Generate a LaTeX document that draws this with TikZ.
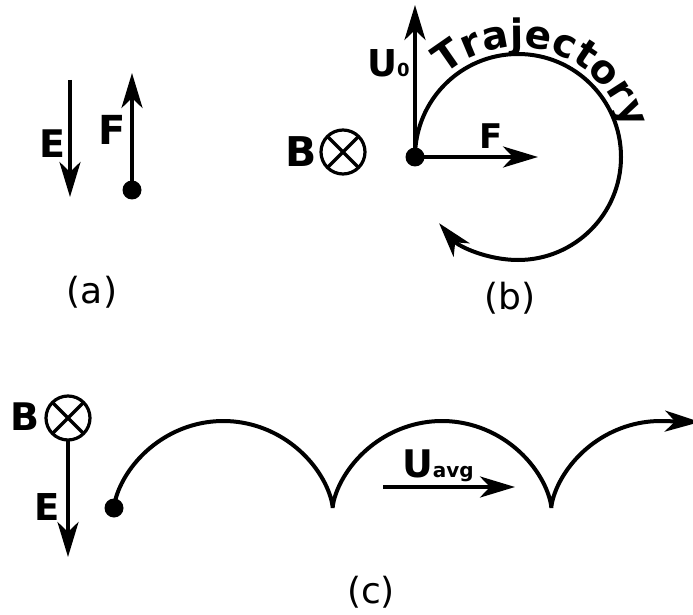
\documentclass[tikz,border=0pt]{standalone}
\usepackage{fontspec}
\setmainfont{DejaVu Sans}
\usetikzlibrary{arrows.meta,decorations.text}
\begin{document}
\begin{tikzpicture}[x=1pt,y=1pt,
  line width=4pt,
  arr/.style={-{Stealth[length=35pt,width=21pt,inset=10pt]}},
  lbl/.style={inner sep=0pt, font=\bfseries\fontsize{#1}{#1}\selectfont},
  captxt/.style={inner sep=0pt, font=\fontsize{36}{36}\selectfont},
  dotst/.style={circle, fill, inner sep=0pt, outer sep=0pt, minimum size=19pt},
  otimes/.style={circle, draw, inner sep=0pt, outer sep=0pt, minimum size=44pt, line width=3.2pt,
    path picture={\draw[line width=3.2pt] (path picture bounding box.south west) -- (path picture bounding box.north east)
      (path picture bounding box.north west) -- (path picture bounding box.south east);}}
]
\useasboundingbox (0,0) rectangle (693,614);

% ---------- panel (a)
\coordinate (Eatop) at (70,534);
\coordinate (Eabot) at (70,417);
\draw[arr] (Eatop) -- (Eabot);
\node[lbl=38] (Ea) at (52,470) {E};
\node[dotst] (pa) at (132,424) {};
\coordinate (Fatip) at (132,541);
\draw[arr] (pa.center) -- (Fatip);
\node[lbl=40] (Fa) at (112,484) {F};
\node[captxt] (capa) at (92,322) {(a)};

% ---------- panel (b)
\node[lbl=41] (Bb) at (301,462) {B};
\node[otimes] (ob) at (343,462) {};
\node[dotst] (pb) at (415,457) {};
\coordinate (Ub) at (415,609);
\draw[arr] (pb.center) -- (Ub);
\node[anchor=base west, inner sep=0pt] (U0) at (365,537)
  {\bfseries\fontsize{37}{37}\selectfont U\fontsize{18}{18}\selectfont 0};
\coordinate (Fb) at (538,457);
\draw[arr] (pb.center) -- (Fb);
\node[lbl=34] (Fbl) at (491,478) {F};
\coordinate (cb) at (518,457);
\draw[arr] (pb.center) arc[start angle=180, end angle=-140, radius=103];
\path[decorate, decoration={text along path,
   text={|\bfseries\fontsize{39}{39}\selectfont|Trajectory}, text align=center}]
   (cb) ++(138:110) arc[start angle=138, end angle=8, radius=110];
\node[captxt] (capb) at (510,316) {(b)};

% ---------- panel (c)
\node[lbl=38] (Bc) at (25,197) {B};
\node[otimes] (oc) at (68,196) {};
\coordinate (Ec) at (68,57);
\draw[arr] (oc.south) -- (Ec);
\node[lbl=37] (Elc) at (47,107) {E};
\node[dotst] (pc) at (114,106) {};
\coordinate (cend) at (700,192);
\draw[arr] plot[domain=0:15.70796, samples=240, variable=\t]
   ({114+34.8*(\t-sin(\t r))},{106+43.5*(1-cos(\t r))}) -- (cend);
\coordinate (ua1) at (383,127);
\coordinate (ua2) at (515,127);
\draw[arr] (ua1) -- (ua2);
\node[anchor=base west, inner sep=0pt] (Uavg) at (400,137)
  {\bfseries\fontsize{38}{38}\selectfont U\fontsize{20}{20}\selectfont avg};
\node[captxt] (capc) at (371,22) {(c)};
\end{tikzpicture}
\end{document}
